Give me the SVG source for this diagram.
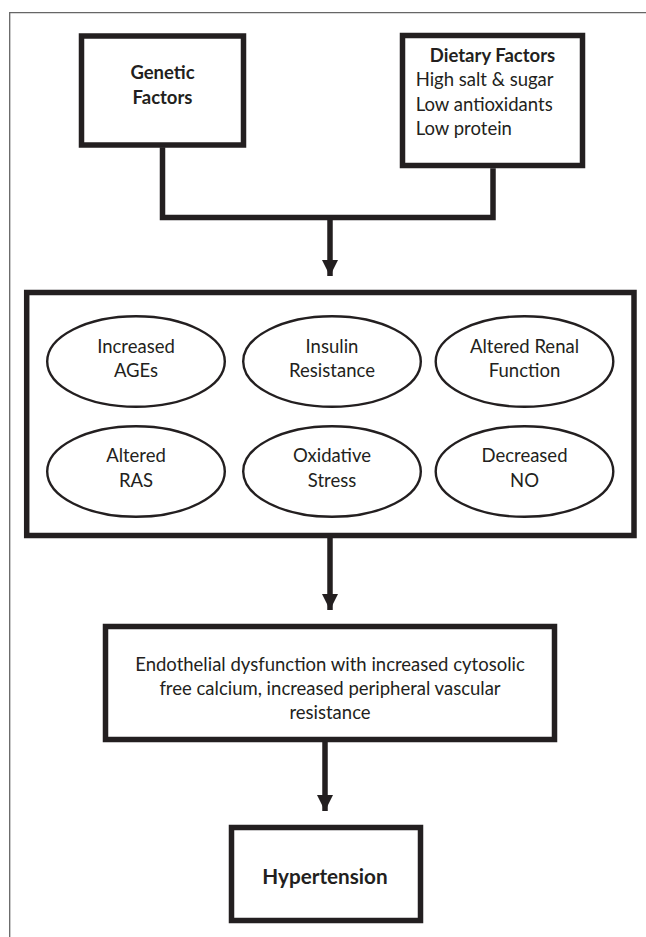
<svg xmlns="http://www.w3.org/2000/svg" width="646" height="937" viewBox="0 0 646 937">
<style>
  .box { fill: #ffffff; stroke: #231f20; stroke-width: 5.5; }
  .oval { fill: #ffffff; stroke: #231f20; stroke-width: 2.4; }
  .con { fill: none; stroke: #231f20; stroke-width: 5.5; stroke-linecap: square; }
  .arr { fill: none; stroke: #231f20; stroke-width: 5.5; stroke-linecap: butt; }
  .frame { fill: none; stroke: #666666; stroke-width: 1.3; }
  text { font-family: Lato, "Open Sans", sans-serif; fill: #231f20; font-size: 18.5px; }
  .b { font-weight: bold; }
  .c { text-anchor: middle; }
  .big { font-size: 20.7px; }
</style>
<defs>
  <marker id="ah" markerUnits="userSpaceOnUse" markerWidth="18" markerHeight="16" refX="16" refY="8" orient="auto">
    <polygon points="0,0 16,8 0,16" fill="#231f20"/>
  </marker>
</defs>
<rect width="646" height="937" fill="#ffffff"/>
<path class="frame" d="M9.7,937 V12.7 H646"/>
<g id="connectors">
  <path class="con" d="M162.5,150 V217.5 H493 V171"/>
  <path class="arr" d="M330,217.5 V276" marker-end="url(#ah)"/>
  <path class="arr" d="M330,538 V610" marker-end="url(#ah)"/>
  <path class="arr" d="M325,742 V811" marker-end="url(#ah)"/>
</g>
<g id="genetic">
  <rect class="box" x="81.5" y="36" width="162" height="109"/>
  <text class="b c" x="162.5" y="79.3">Genetic</text>
  <text class="b c" x="162.5" y="104">Factors</text>
</g>
<g id="dietary">
  <rect class="box" x="402.5" y="35.5" width="180" height="130"/>
  <text class="b c" x="492.5" y="61.7">Dietary Factors</text>
  <text x="415.7" y="86">High salt &amp; sugar</text>
  <text x="415.7" y="111">Low antioxidants</text>
  <text x="415.7" y="135">Low protein</text>
</g>
<g id="mechanisms">
  <rect class="box" x="26.7" y="292.5" width="607.3" height="243"/>
</g>
<g id="ages">
  <ellipse class="oval" cx="136" cy="361.5" rx="88.8" ry="45.3"/>
  <text class="c" x="136" y="353">Increased</text>
  <text class="c" x="136" y="377">AGEs</text>
</g>
<g id="insulin">
  <ellipse class="oval" cx="332" cy="361.5" rx="88.8" ry="45.3"/>
  <text class="c" x="332" y="353">Insulin</text>
  <text class="c" x="332" y="377">Resistance</text>
</g>
<g id="renal">
  <ellipse class="oval" cx="524.5" cy="361.5" rx="88.8" ry="45.3"/>
  <text class="c" x="524.5" y="352.7">Altered Renal</text>
  <text class="c" x="524.5" y="376.7">Function</text>
</g>
<g id="ras">
  <ellipse class="oval" cx="136" cy="471.5" rx="88.8" ry="45.3"/>
  <text class="c" x="136" y="462">Altered</text>
  <text class="c" x="136" y="487">RAS</text>
</g>
<g id="oxidative">
  <ellipse class="oval" cx="332" cy="471.5" rx="88.8" ry="45.3"/>
  <text class="c" x="332" y="462">Oxidative</text>
  <text class="c" x="332" y="487">Stress</text>
</g>
<g id="no">
  <ellipse class="oval" cx="524.5" cy="471.5" rx="88.8" ry="45.3"/>
  <text class="c" x="524.5" y="462">Decreased</text>
  <text class="c" x="524.5" y="487">NO</text>
</g>
<g id="endothelial">
  <rect class="box" x="105.5" y="626.5" width="449" height="113"/>
  <text class="c" x="330" y="670.7">Endothelial dysfunction with increased cytosolic</text>
  <text class="c" x="330" y="695">free calcium, increased peripheral vascular</text>
  <text class="c" x="330" y="719">resistance</text>
</g>
<g id="hypertension">
  <rect class="box" x="231.5" y="827.5" width="189" height="93"/>
  <text class="b c big" x="325" y="884">Hypertension</text>
</g>
</svg>
